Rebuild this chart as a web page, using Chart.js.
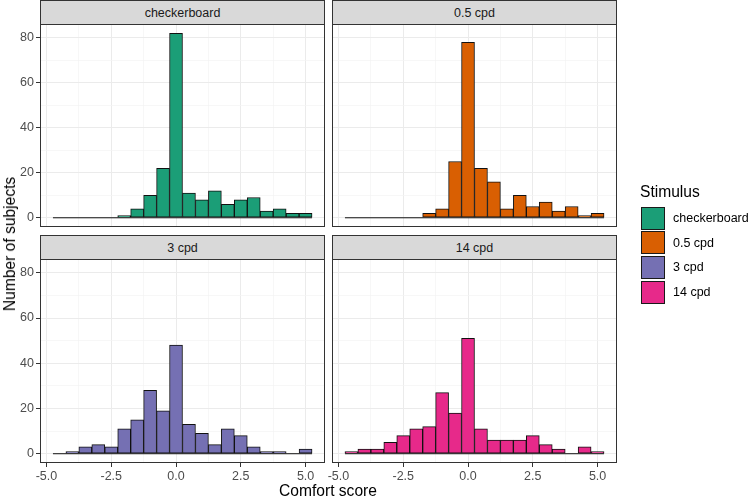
<!DOCTYPE html>
<html>
<head>
<meta charset="utf-8">
<script src="https://cdn.jsdelivr.net/npm/chart.js@4.4.0/dist/chart.umd.min.js"></script>
<style>
  body { margin: 0; background: #fff; font-family: "Liberation Sans", Arial, sans-serif; }
  #wrap { position: relative; width: 750px; height: 499px; overflow: hidden; background: #fff; }
  #wrap canvas { position: absolute; left: 0; top: 0; }
  .strip { position: absolute; height: 25px; background: #d9d9d9; border: 1px solid #333; box-sizing: border-box;
           font-size: 12.5px; color: #1a1a1a; display: flex; align-items: center; justify-content: center; }
  .title { position: absolute; font-size: 15.6px; color: #000; white-space: nowrap; }
  .key { position: absolute; left: 641px; width: 24px; height: 23px; border: 1.3px solid #1a1a1a; box-sizing: border-box; }
  .keylab { position: absolute; left: 673px; font-size: 12.5px; color: #000; line-height: 14px; }
</style>
</head>
<body>
<div id="wrap">
  <canvas id="c0" width="750" height="499"></canvas>
  <canvas id="c1" width="750" height="499"></canvas>
  <canvas id="c2" width="750" height="499"></canvas>
  <canvas id="c3" width="750" height="499"></canvas>
</div>
<script>
// --- Data (bin width 0.5) ---
const binCenters = [-4.5, -4, -3.5, -3, -2.5, -2, -1.5, -1, -0.5, 0, 0.5, 1, 1.5, 2, 2.5, 3, 3.5, 4, 4.5, 5];
const binWidth = 0.5;
const stimuli = ['checkerboard', '0.5 cpd', '3 cpd', '14 cpd'];
const checkerboardCounts = [0, 0, 0, 0, 0, 1, 4, 10, 22, 82, 11, 8, 12, 6, 8, 9, 3, 4, 2, 2];
const cpd05Counts = [0, 0, 0, 0, 0, 0, 2, 4, 25, 78, 22, 16, 4, 10, 5, 7, 3, 5, 1, 2];
const cpd3Counts = [0, 1, 3, 4, 3, 11, 15, 28, 19, 48, 13, 9, 4, 11, 8, 3, 1, 1, 0, 2];
const cpd14Counts = [1, 2, 2, 5, 8, 11, 12, 27, 18, 51, 11, 6, 6, 6, 8, 4, 2, 0, 3, 1];
const stimulusColors = ['#1B9E77', '#D95F02', '#7570B3', '#E7298A'];

// axis ticks
const xMajor = [-5, -2.5, 0, 2.5, 5];
const xMinor = [-3.75, -1.25, 1.25, 3.75];
const yMajor = [0, 20, 40, 60, 80];
const yMinor = [10, 30, 50, 70];

const allCounts = [checkerboardCounts, cpd05Counts, cpd3Counts, cpd14Counts];

// --- Layout of the four facets (page pixels) ---
const W = 750, H = 499;
const panels = [
  { left: 40, top: 24, right: 325, bottom: 227, showX: false, showY: true },
  { left: 332, top: 24, right: 617, bottom: 227, showX: false, showY: false },
  { left: 40, top: 259, right: 325, bottom: 463, showX: true, showY: true },
  { left: 332, top: 259, right: 617, bottom: 463, showX: true, showY: false }
];
const Y_AXIS_W = 40, X_AXIS_H = 20;
const FONT = '"Liberation Sans", Arial, sans-serif';

// panel border drawn on top, like ggplot's theme_bw
const framePlugin = {
  id: 'frame',
  afterDraw(chart) {
    const a = chart.chartArea, c = chart.ctx;
    c.save();
    c.strokeStyle = '#333333';
    c.lineWidth = 1;
    c.strokeRect(a.left + 0.5, a.top + 0.5, a.right - a.left - 1, a.bottom - a.top - 1);
    c.restore();
  }
};

function isMajor(list, v) {
  return list.some(m => Math.abs(m - v) < 1e-9);
}

function makeChart(idx) {
  const p = panels[idx];
  const counts = allCounts[idx];
  const xh = p.showX ? X_AXIS_H : 0;
  const yw = p.showY ? Y_AXIS_W : 0;

  return new Chart(document.getElementById('c' + idx), {
    type: 'bar',
    data: {
      datasets: [
        {
          // ggplot outlines empty bins too, which shows up as a baseline
          type: 'line',
          order: 0,
          data: [
            { x: binCenters[0] - binWidth / 2, y: 0 },
            { x: binCenters[binCenters.length - 1] + binWidth / 2, y: 0 }
          ],
          borderColor: '#111',
          borderWidth: 1,
          pointRadius: 0
        },
        {
          type: 'bar',
          order: 1,
          label: stimuli[idx],
          data: binCenters.map((x, i) => ({ x: x, y: counts[i] })),
          backgroundColor: stimulusColors[idx],
          borderColor: '#111',
          borderWidth: 1,
          borderSkipped: false,
          barPercentage: 1,
          categoryPercentage: 1,
          grouped: false
        }
      ]
    },
    options: {
      responsive: false,
      animation: false,
      events: [],
      layout: {
        autoPadding: false,
        padding: { left: p.left - yw, top: p.top, right: W - p.right, bottom: H - p.bottom - xh }
      },
      plugins: { legend: { display: false }, tooltip: { enabled: false } },
      scales: {
        x: {
          type: 'linear',
          min: -5.25,
          max: 5.75,
          offset: false,
          afterBuildTicks: s => { s.ticks = xMajor.concat(xMinor).sort((a, b) => a - b).map(v => ({ value: v })); },
          afterFit: s => { s.height = xh; },
          border: { display: false },
          grid: {
            offset: false,
            drawTicks: p.showX,
            tickLength: 4,
            color: ctx => isMajor(xMajor, ctx.tick.value) ? '#ebebeb' : '#f4f4f4',
            lineWidth: ctx => isMajor(xMajor, ctx.tick.value) ? 1 : 0.7,
            tickColor: ctx => isMajor(xMajor, ctx.tick.value) ? '#333333' : 'rgba(0,0,0,0)',
            tickWidth: 1
          },
          ticks: {
            display: p.showX,
            autoSkip: false,
            maxRotation: 0,
            padding: 2,
            color: '#4d4d4d',
            font: { family: FONT, size: 12.5 },
            callback: v => isMajor(xMajor, v) ? v.toFixed(1) : ''
          }
        },
        y: {
          type: 'linear',
          min: -4.1,
          max: 86.1,
          beginAtZero: false,
          afterBuildTicks: s => { s.ticks = yMajor.concat(yMinor).sort((a, b) => a - b).map(v => ({ value: v })); },
          afterFit: s => { s.width = yw; },
          border: { display: false },
          grid: {
            drawTicks: p.showY,
            tickLength: 4,
            color: ctx => isMajor(yMajor, ctx.tick.value) ? '#ebebeb' : '#f4f4f4',
            lineWidth: ctx => isMajor(yMajor, ctx.tick.value) ? 1 : 0.7,
            tickColor: ctx => isMajor(yMajor, ctx.tick.value) ? '#333333' : 'rgba(0,0,0,0)',
            tickWidth: 1
          },
          ticks: {
            display: p.showY,
            autoSkip: false,
            padding: 2,
            color: '#4d4d4d',
            font: { family: FONT, size: 12.5 },
            callback: v => isMajor(yMajor, v) ? String(v) : ''
          }
        }
      }
    },
    plugins: [framePlugin]
  });
}

// --- Text: strips, axis titles, legend ---
const wrap = document.getElementById('wrap');

function addDiv(cls, text, style) {
  const d = document.createElement('div');
  d.className = cls;
  d.textContent = text;
  Object.assign(d.style, style);
  wrap.appendChild(d);
  return d;
}

panels.forEach((p, i) => {
  addDiv('strip', stimuli[i], {
    left: p.left + 'px',
    top: (p.top - 24) + 'px',
    width: (p.right - p.left) + 'px'
  });
  makeChart(i);
});

addDiv('title', 'Comfort score', { left: '328px', top: '491px', transform: 'translate(-50%, -50%)' });
addDiv('title', 'Number of subjects', { left: '10px', top: '244px', transform: 'translate(-50%, -50%) rotate(-90deg)' });

addDiv('title', 'Stimulus', { left: '640px', top: '183px' });
stimuli.forEach((s, i) => {
  const top = 206.7 + i * 24.6;
  addDiv('key', '', { top: top + 'px', background: stimulusColors[i] });
  addDiv('keylab', s, { top: (top + 4.5) + 'px' });
});
</script>
</body>
</html>
